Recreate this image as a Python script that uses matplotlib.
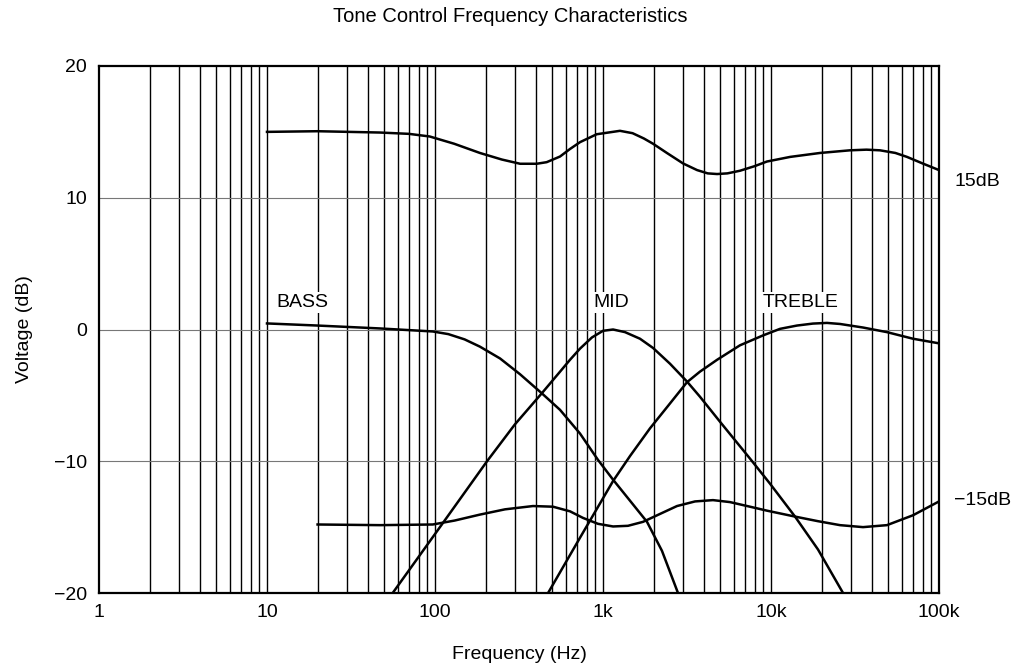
import matplotlib
matplotlib.use("Agg")
import matplotlib.pyplot as plt
import matplotlib.transforms as mtransforms

plt.rcParams['font.family'] = ['Liberation Sans', 'DejaVu Sans']

# ---- data ----
top_f = [10, 20, 47, 70, 93, 130, 185, 250, 321, 403, 462, 555, 636, 730, 917, 1262,
         1500, 1750, 1985, 2400, 3000, 3630, 4200, 4775, 5500, 6535, 8000, 9460, 13000, 19600,
         29500, 37000, 44550, 55000, 64500, 80000, 100000]
top_db = [15.0, 15.05, 14.95, 14.85, 14.65, 14.1, 13.4, 12.9, 12.58, 12.58, 12.7, 13.13, 13.7, 14.22,
          14.82, 15.08, 14.9, 14.5, 14.1, 13.4, 12.6, 12.1, 11.85, 11.8, 11.85, 12.05,
          12.4, 12.75, 13.1, 13.4, 13.6, 13.65, 13.6, 13.4, 13.1, 12.6, 12.1]

bass_f = [10, 20, 47, 97, 120, 150, 185, 244, 321, 433, 555, 730, 934, 1148, 1449, 1828, 2244, 2795]
bass_db = [0.46, 0.3, 0.08, -0.15, -0.35, -0.75, -1.3, -2.2, -3.4, -4.85, -6.1, -7.9, -9.9, -11.4,
           -13.0, -14.6, -16.8, -20.0]

mid_f = [56, 107, 204, 299, 433, 555, 636, 730, 860, 1000, 1148, 1352, 1660, 1985, 2506, 3162, 3776,
         4970, 7500, 9863, 13900, 19050, 26840]
mid_db = [-20.0, -15.0, -10.0, -7.2, -4.83, -3.2, -2.3, -1.45, -0.6, -0.1, 0.0, -0.2, -0.7, -1.4, -2.6,
          -3.95, -5.1, -7.0, -9.8, -11.7, -14.2, -16.7, -20.0]

treble_f = [471, 730, 1148, 1449, 1905, 2438, 3162, 3776, 4775, 6535, 8960, 11320, 14280, 17780,
            21530, 25750, 35300, 49000, 70000, 100000]
treble_db = [-20.0, -15.8, -11.5, -9.6, -7.5, -5.8, -4.0, -3.2, -2.3, -1.2, -0.45, 0.05, 0.3,
             0.45, 0.5, 0.42, 0.15, -0.2, -0.7, -1.05]

bot_f = [20, 47, 97, 131, 185, 261, 383, 504, 636, 760, 934, 1148, 1408, 1730, 2183, 2757, 3530,
         4515, 5700, 7500, 9460, 13900, 19050, 25750, 35300, 49000, 70000, 100000]
bot_db = [-14.8, -14.85, -14.8, -14.5, -14.05, -13.65, -13.4, -13.45, -13.8, -14.3, -14.75, -14.95,
          -14.9, -14.6, -14.0, -13.4, -13.05, -12.95, -13.1, -13.45, -13.75, -14.2, -14.55, -14.85,
          -15.0, -14.85, -14.1, -13.05]

xtick_vals = [1, 10, 100, 1000, 10000, 100000]
xtick_labels = ['1', '10', '100', '1k', '10k', '100k']
ytick_vals = [-20, -10, 0, 10, 20]
ytick_labels = ['\u221220', '\u221210', '0', '10', '20']

curve_labels = ['BASS', 'MID', 'TREBLE']
curve_label_pos = [(11.3, 2.05, 'left'), (1116, 2.05, 'center'), (14900, 2.05, 'center')]
end_labels = ['15dB', '\u221215dB']
end_label_y = [11.2, -13.0]

FS = 14

# ---- figure ----
fig = plt.figure(figsize=(10.21, 6.69), dpi=100)
ax = fig.add_axes([99/1021, 1-593/669, 840/1021, 527/669])
ax.set_xscale('log')
ax.set_xlim(1, 100000)
ax.set_ylim(-20, 20)

# vertical grid at every 1..9 multiple
for dec in range(5):
    for m in range(1, 10):
        v = m * 10**dec
        if v <= 1 or v >= 100000:
            continue
        ax.axvline(v, color='black', lw=1.0, zorder=1)
for yv in [-10, 0, 10]:
    ax.axhline(yv, color='#777777', lw=0.8, zorder=1)

for f, d in [(top_f, top_db), (bass_f, bass_db), (mid_f, mid_db), (treble_f, treble_db), (bot_f, bot_db)]:
    ax.plot(f, d, color='black', lw=1.8, zorder=3, solid_joinstyle='round')

for lab, (fx, fy, ha) in zip(curve_labels, curve_label_pos):
    ax.text(fx, fy, lab, ha=ha, va='center', fontsize=FS, zorder=4,
            bbox=dict(facecolor='white', edgecolor='none', pad=1.5))

trans = mtransforms.blended_transform_factory(ax.transAxes, ax.transData)
for lab, yy in zip(end_labels, end_label_y):
    ax.text(1 + 15/840, yy, lab, transform=trans, ha='left', va='center', fontsize=FS)

ax.set_xticks(xtick_vals)
ax.set_xticklabels(xtick_labels)
ax.set_xticks([], minor=True)
ax.set_yticks(ytick_vals)
ax.set_yticklabels(ytick_labels)
ax.tick_params(axis='both', length=0, labelsize=FS)
ax.tick_params(axis='x', pad=8)
ax.tick_params(axis='y', pad=8.5)
for s in ax.spines.values():
    s.set_linewidth(1.6)
    s.set_zorder(5)

ax.set_xlabel('Frequency (Hz)', fontsize=FS, labelpad=18)
ax.set_ylabel('Voltage (dB)', fontsize=FS, labelpad=15)
fig.text(0.5, 1-17/669, 'Tone Control Frequency Characteristics', ha='center', va='center', fontsize=14.5)

fig.savefig('out.png', dpi=100)
